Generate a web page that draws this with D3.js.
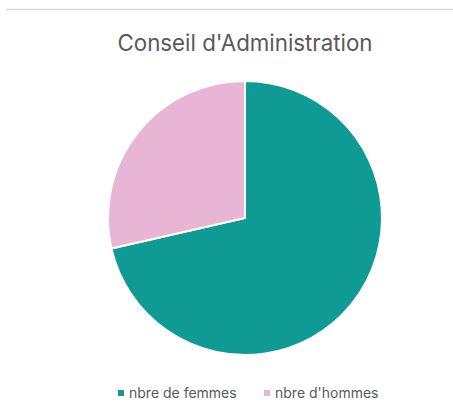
<!DOCTYPE html>
<html><head><meta charset="utf-8">
<script src="https://cdn.jsdelivr.net/npm/d3@7"></script>
<style>body{margin:0;background:#fff;}svg{display:block;}</style>
</head><body>
<script>
const categories = ["nbre de femmes", "nbre d'hommes"];
const values = [5, 2];
const colors = ["#0F9A93", "#E8B5D5"];
const title = "Conseil d'Administration";

const W = 453, H = 406;
const svg = d3.select("body").append("svg").attr("width", W).attr("height", H);
svg.append("line").attr("x1", 6).attr("x2", W).attr("y1", 9.5).attr("y2", 9.5)
  .attr("stroke", "#d9d9d9").attr("stroke-width", 1.5);
svg.append("text").attr("x", 245).attr("y", 51).attr("text-anchor", "middle")
  .attr("font-family", "Inter, 'Open Sans', sans-serif").attr("font-size", 22.3)
  .attr("fill", "#595959").text(title);

const cx = 245, cy = 218, r = 137;
const pie = d3.pie().sort(null).value(d => d)(values);
const arc = d3.arc().innerRadius(0).outerRadius(r);
const g = svg.append("g").attr("transform", `translate(${cx},${cy})`);
g.selectAll("path").data(pie).join("path")
  .attr("d", arc).attr("fill", (d, i) => colors[i])
  .attr("stroke", "#fff").attr("stroke-width", 2);

const legendX = [118, 264];
const lg = svg.append("g");
categories.forEach((c, i) => {
  lg.append("rect").attr("x", legendX[i]).attr("y", 390).attr("width", 6).attr("height", 6).attr("fill", colors[i]);
  lg.append("text").attr("x", legendX[i] + 11).attr("y", 397.5)
    .attr("font-family", "Inter, 'Open Sans', sans-serif").attr("font-size", 14)
    .attr("fill", "#595959").text(c);
});
</script>
</body></html>
